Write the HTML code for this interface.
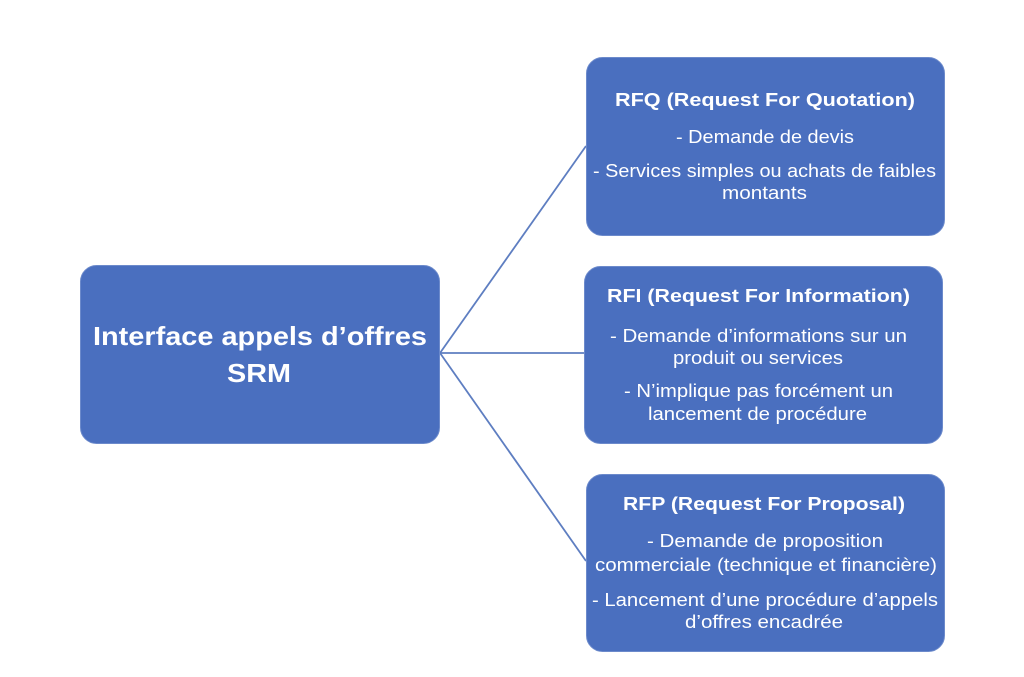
<!DOCTYPE html>
<html>
<head>
<meta charset="utf-8">
<style>
  html,body{margin:0;padding:0;background:#ffffff;}
  svg{display:block;}
  text{font-family:"Liberation Sans",Arial,sans-serif;fill:#ffffff;}
  .t{font-weight:bold;font-size:18px;}
  .b{font-size:18px;}
  .c{font-weight:bold;font-size:26px;}
</style>
</head>
<body>
<svg width="1024" height="677" viewBox="0 0 1024 677" xmlns="http://www.w3.org/2000/svg">
  <rect x="0" y="0" width="1024" height="677" fill="#ffffff"/>
  <!-- connectors -->
  <g stroke="#5e7ec1" stroke-width="1.8" fill="none">
    <line x1="440" y1="353" x2="586" y2="146"/>
    <line x1="440" y1="353" x2="585" y2="353"/>
    <line x1="440" y1="353" x2="586" y2="561"/>
  </g>
  <!-- boxes -->
  <g fill="#4a6fbf" stroke="#6c8acb" stroke-width="1">
    <rect x="80.5" y="265.5" width="359" height="178" rx="16" ry="16"/>
    <rect x="586.5" y="57.5" width="358" height="178" rx="16" ry="16"/>
    <rect x="584.5" y="266.5" width="358" height="177" rx="16" ry="16"/>
    <rect x="586.5" y="474.5" width="358" height="177" rx="16" ry="16"/>
  </g>
  <!-- center text -->
  <text class="c" x="93" y="345" textLength="334" lengthAdjust="spacingAndGlyphs">Interface appels d’offres</text>
  <text class="c" x="227" y="382" textLength="64" lengthAdjust="spacingAndGlyphs">SRM</text>
  <!-- RFQ -->
  <text class="t" x="615" y="106" textLength="300" lengthAdjust="spacingAndGlyphs">RFQ (Request For Quotation)</text>
  <text class="b" x="676" y="143" textLength="178" lengthAdjust="spacingAndGlyphs">- Demande de devis</text>
  <text class="b" x="593" y="177" textLength="343" lengthAdjust="spacingAndGlyphs">- Services simples ou achats de faibles</text>
  <text class="b" x="722" y="199" textLength="85" lengthAdjust="spacingAndGlyphs">montants</text>
  <!-- RFI -->
  <text class="t" x="607" y="302" textLength="303" lengthAdjust="spacingAndGlyphs">RFI (Request For Information)</text>
  <text class="b" x="610" y="342" textLength="297" lengthAdjust="spacingAndGlyphs">- Demande d’informations sur un</text>
  <text class="b" x="673" y="364" textLength="170" lengthAdjust="spacingAndGlyphs">produit ou services</text>
  <text class="b" x="624" y="397" textLength="269" lengthAdjust="spacingAndGlyphs">- N’implique pas forcément un</text>
  <text class="b" x="648" y="420" textLength="219" lengthAdjust="spacingAndGlyphs">lancement de procédure</text>
  <!-- RFP -->
  <text class="t" x="623" y="510" textLength="282" lengthAdjust="spacingAndGlyphs">RFP (Request For Proposal)</text>
  <text class="b" x="647" y="547" textLength="236" lengthAdjust="spacingAndGlyphs">- Demande de proposition</text>
  <text class="b" x="595" y="571" textLength="342" lengthAdjust="spacingAndGlyphs">commerciale (technique et financière)</text>
  <text class="b" x="592" y="606" textLength="346" lengthAdjust="spacingAndGlyphs">- Lancement d’une procédure d’appels</text>
  <text class="b" x="685" y="628" textLength="158" lengthAdjust="spacingAndGlyphs">d’offres encadrée</text>
</svg>
</body>
</html>
